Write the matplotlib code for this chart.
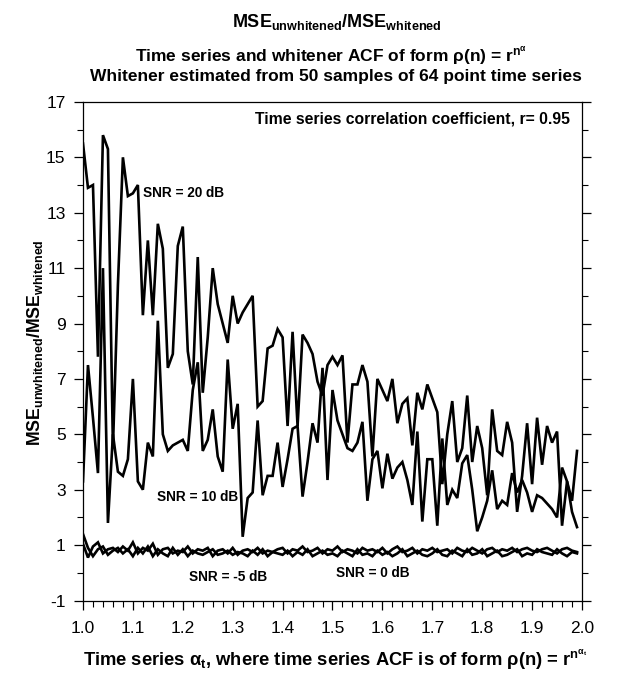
import matplotlib
matplotlib.use("Agg")
import matplotlib.pyplot as plt
import numpy as np
from matplotlib.ticker import MultipleLocator

# alpha_t grid, 1.00 .. 1.99
alpha_t = [round(1.0 + 0.01 * i, 2) for i in range(100)]

snr_20db = [15.5, 13.9, 14.0, 7.8, 15.8, 15.3, 4.5, 10.4, 15.0, 13.6,
            13.7, 14.0, 9.3, 12.0, 9.3, 12.6, 11.7, 7.4, 7.9, 11.8,
            12.5, 8.0, 6.8, 11.4, 6.5, 8.5, 11.0, 9.7, 9.0, 8.3,
            10.0, 9.0, 9.4, 9.7, 10.0, 6.0, 6.2, 8.1, 8.2, 8.8,
            8.5, 5.3, 8.7, 5.3, 8.6, 8.3, 7.9, 6.9, 6.4, 7.5,
            7.8, 7.5, 7.85, 4.7, 6.8, 6.8, 7.5, 6.9, 4.2, 7.0,
            6.6, 6.2, 7.0, 5.4, 6.1, 6.3, 4.6, 6.5, 5.9, 6.8,
            6.3, 5.8, 3.2, 5.0, 6.2, 4.0, 4.5, 6.4, 4.0, 5.3,
            4.5, 2.8, 5.9, 4.4, 4.25, 5.45, 4.7, 2.2, 3.5, 5.4,
            3.2, 5.6, 3.9, 5.3, 4.7, 5.1, 1.7, 3.3, 2.6, 4.4]

snr_10db = [3.3, 7.5, 5.6, 3.6, 11.0, 1.8, 5.0, 3.65, 3.5, 4.1,
            7.0, 3.3, 3.0, 4.7, 4.2, 9.1, 5.0, 4.4, 4.6, 4.7,
            4.8, 4.4, 6.6, 7.6, 4.4, 4.8, 5.9, 4.2, 3.65, 7.7,
            5.2, 6.1, 1.3, 2.7, 2.9, 5.5, 2.8, 3.5, 3.5, 4.7,
            3.1, 4.1, 5.2, 5.3, 2.75, 4.0, 5.4, 4.7, 7.4, 3.35,
            6.6, 5.5, 5.0, 4.5, 4.4, 4.7, 5.45, 2.6, 4.1, 4.4,
            3.05, 4.3, 3.4, 3.8, 4.0, 3.35, 2.45, 5.1, 1.85, 4.1,
            4.1, 1.7, 4.85, 2.45, 3.0, 2.7, 3.95, 4.25, 3.0, 1.5,
            2.0, 2.6, 3.7, 2.3, 2.6, 2.45, 3.6, 2.9, 3.35, 2.9,
            2.2, 2.8, 2.7, 2.5, 2.3, 2.0, 3.8, 3.3, 2.2, 1.65]

snr_0db = [1.05, 0.55, 0.95, 1.1, 0.7, 0.85, 0.9, 0.75, 0.95, 0.8,
           1.1, 0.7, 0.9, 0.8, 1.05, 0.65, 0.85, 0.9, 0.7, 0.8,
           0.75, 0.95, 0.7, 0.85, 0.8, 0.9, 0.6, 0.8, 0.85, 0.7,
           0.9, 0.65, 0.8, 0.85, 0.75, 0.9, 0.7, 0.8, 0.75, 0.85,
           0.9, 0.7, 0.85, 0.8, 0.95, 0.75, 0.8, 0.9, 0.7, 0.85,
           0.8, 0.95, 0.75, 0.85, 0.8, 0.7, 0.9, 0.8, 0.85, 0.75,
           0.9, 0.7, 0.85, 0.95, 0.75, 0.8, 0.9, 0.7, 0.85, 0.8,
           0.9, 0.75, 0.8, 0.85, 0.7, 0.9, 0.8, 0.75, 0.9, 0.8,
           0.7, 0.85, 0.9, 0.75, 0.85, 0.8, 0.9, 0.75, 0.85, 0.9,
           0.8, 0.75, 0.85, 0.9, 0.8, 0.7, 0.85, 0.9, 0.8, 0.75]

snr_m5db = [1.4, 0.9, 0.6, 0.85, 0.95, 0.65, 0.8, 0.9, 0.7, 0.85,
            0.6, 0.9, 0.7, 0.95, 0.6, 0.85, 0.7, 0.6, 0.9, 0.65,
            0.85, 0.6, 0.8, 0.7, 0.65, 0.75, 0.85, 0.65, 0.7, 0.8,
            0.65, 0.75, 0.7, 0.6, 0.8, 0.65, 0.85, 0.6, 0.75, 0.7,
            0.65, 0.8, 0.6, 0.75, 0.65, 0.85, 0.6, 0.7, 0.8, 0.65,
            0.7, 0.6, 0.8, 0.7, 0.6, 0.85, 0.65, 0.7, 0.6, 0.8,
            0.65, 0.75, 0.6, 0.7, 0.85, 0.6, 0.7, 0.8, 0.65, 0.6,
            0.7, 0.85, 0.65, 0.6, 0.8, 0.7, 0.6, 0.85, 0.65, 0.7,
            0.85, 0.6, 0.7, 0.8, 0.6, 0.65, 0.75, 0.85, 0.6, 0.7,
            0.65, 0.85, 0.75, 0.7, 0.65, 0.85, 0.7, 0.6, 0.75, 0.7]

y_ticks = [-1, 1, 3, 5, 7, 9, 11, 13, 15, 17]
x_ticks = [1.0, 1.1, 1.2, 1.3, 1.4, 1.5, 1.6, 1.7, 1.8, 1.9, 2.0]


def main() -> None:
    plt.rcParams["font.family"] = ["Liberation Sans", "DejaVu Sans"]
    plt.rcParams["mathtext.default"] = "regular"
    plt.rcParams["axes.unicode_minus"] = False

    fig = plt.figure(figsize=(6.23, 6.79), dpi=100)
    ax = fig.add_axes([0.1332, 0.1156, 0.801, 0.7343])

    for series in (snr_20db, snr_10db, snr_0db, snr_m5db):
        ax.plot(alpha_t, series, color="black", lw=1.9, solid_joinstyle="miter")

    ax.set_xlim(1.0, 2.0)
    ax.set_ylim(-1, 17)
    ax.set_xticks(x_ticks)
    ax.set_xticklabels([f"{v:.1f}" for v in x_ticks])
    ax.set_yticks(y_ticks)
    ax.xaxis.set_minor_locator(MultipleLocator(0.02))
    ax.yaxis.set_minor_locator(MultipleLocator(1))
    ax.tick_params(axis="both", which="major", labelsize=12.5, length=6.5, width=0.9,
                   direction="out", right=True)
    ax.tick_params(axis="both", which="minor", length=4, width=0.8,
                   direction="out", right=True)
    ax.tick_params(axis="x", which="both", pad=8)
    ax.tick_params(axis="y", which="both", pad=6)
    for side in ("left", "right", "top", "bottom"):
        ax.spines[side].set_linewidth(0.9)

    # curve labels
    ax.text(1.120, 13.7, "SNR = 20 dB", fontsize=9.8, fontweight="bold", va="center")
    ax.text(1.148, 2.75, "SNR = 10 dB", fontsize=9.8, fontweight="bold", va="center")
    ax.text(1.212, -0.15, "SNR = -5 dB", fontsize=9.8, fontweight="bold", va="center")
    ax.text(1.507, 0.0, "SNR = 0 dB", fontsize=9.8, fontweight="bold", va="center")
    ax.text(0.976, 0.966, "Time series correlation coefficient, r= 0.95",
            transform=ax.transAxes, fontsize=11.3, fontweight="bold", ha="right", va="center")

    fig.text(0.54, 0.968, r"MSE$_{unwhitened}$/MSE$_{whitened}$",
             ha="center", va="center", fontsize=13, fontweight="bold")
    fig.text(0.532, 0.917, r"Time series and whitener ACF of form ρ(n) = r$^{n^{α}}$",
             ha="center", va="center", fontsize=12.5, fontweight="bold")
    fig.text(0.54, 0.888, "Whitener estimated from 50 samples of 64 point time series",
             ha="center", va="center", fontsize=12.5, fontweight="bold")

    fig.text(0.056, 0.496, r"MSE$_{unwhitened}$/MSE$_{whitened}$", rotation=90,
             ha="center", va="center", fontsize=12.8, fontweight="bold")
    fig.text(0.538, 0.028,
             r"Time series $α_t$, where time series ACF is of form ρ(n) = r$^{n^{α_t}}$",
             ha="center", va="center", fontsize=13.2, fontweight="bold")

    fig.savefig("out.png", dpi=100)
    plt.close(fig)


if __name__ == "__main__":
    main()
